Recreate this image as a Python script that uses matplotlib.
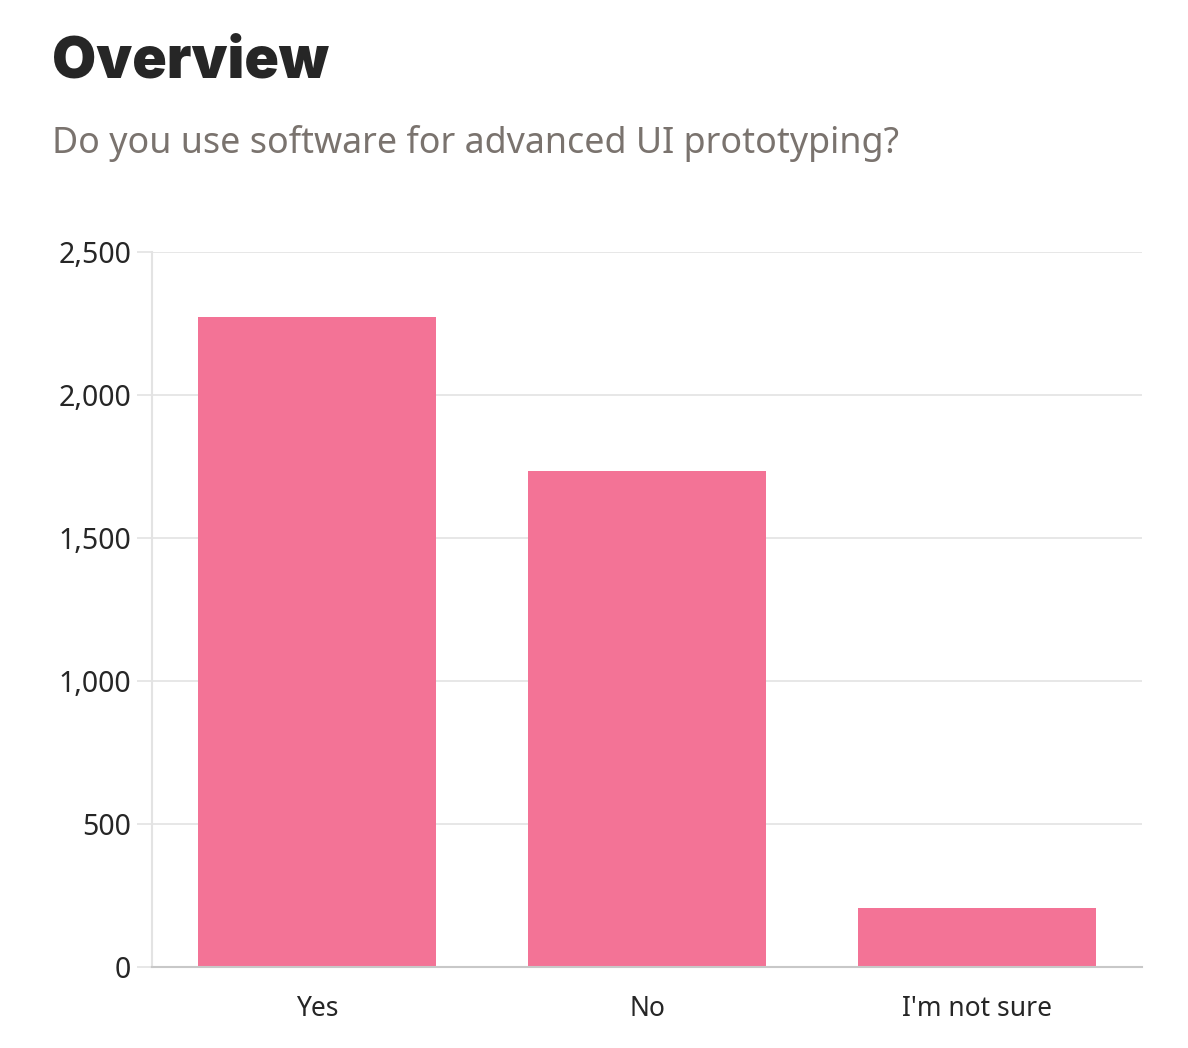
import matplotlib
matplotlib.use("Agg")
import matplotlib.pyplot as plt

# survey answers
categories = ["Yes", "No", "I'm not sure"]
counts = [2273, 1734, 206]
yticks = [0, 500, 1000, 1500, 2000, 2500]

bar_color = "#F37396"
grid_color = "#e3e3e3"
text_color = "#262626"

plt.rcParams['font.family'] = ['Noto Sans', 'DejaVu Sans']

fig = plt.figure(figsize=(11.88, 10.48), dpi=100)
ax = fig.add_axes([152/1188, 1-967/1048, 990/1188, 715/1048])

x = range(len(categories))
ax.bar(x, counts, width=0.72, color=bar_color, zorder=3)
ax.set_xlim(-0.5, len(categories) - 0.5)
ax.set_ylim(0, 2500)

ax.set_yticks(yticks)
ax.set_yticklabels([f"{v:,}" for v in yticks], fontsize=20.5, color=text_color)
ax.set_xticks(list(x))
ax.set_xticklabels(categories, fontsize=19, color=text_color)
ax.tick_params(axis='y', length=11, width=1.2, color=grid_color, pad=4)
ax.tick_params(axis='x', length=0, pad=20)
ax.yaxis.grid(True, color=grid_color, linewidth=1.2, zorder=0)

for s in ["top", "right"]:
    ax.spines[s].set_visible(False)
ax.spines["left"].set_color(grid_color)
ax.spines["left"].set_linewidth(1.5)
ax.spines["bottom"].set_color("#c8c8c8")
ax.spines["bottom"].set_linewidth(1.5)
ax.spines["bottom"].set_zorder(4)

### Title and subtitle
fig.text(52/1188, 1-78/1048, "Overview", fontsize=41, fontweight='black',
         family=['Inter', 'DejaVu Sans'], color=text_color, va='baseline', ha='left')
fig.text(52/1188, 1-153/1048, "Do you use software for advanced UI prototyping?",
         fontsize=25.8, color="#7a736e", va='baseline', ha='left')

fig.savefig("out.png", dpi=100)
